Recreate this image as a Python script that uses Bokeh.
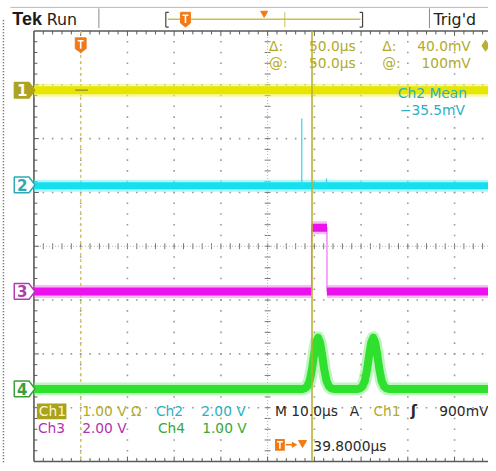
import numpy as np
from bokeh.plotting import figure
from bokeh.models import Range1d
from bokeh.core.properties import value
from bokeh.embed import file_html
from bokeh.resources import INLINE

# ---------------- data ----------------
US_PER_DIV = 10.0
ch_names = ["1", "2", "3", "4"]
ch_volts_per_div = [1.0, 2.0, 2.0, 1.0]
ch_offset_div = [2.90, 1.14, -0.84, -2.65]

ch1_t = [0.0, 100.0]
ch1_v = [0.0, 0.0]

ch2_t = [0.0, 100.0]
ch2_v = [-0.0355, -0.0355]
ch2_spike_t = [57.3, 62.6]
ch2_spike_v = [2.47, 0.25]

ch3_t = [0.0, 59.4, 59.4, 62.7, 62.7, 100.0]
ch3_v = [0.0, 0.0, 2.37, 2.37, 0.0, 0.0]

ch4_t = [0.0, 57.5, 58.0, 58.5, 59.0, 59.5, 60.0, 60.4, 60.8, 61.2, 61.6, 62.1, 62.6, 63.1, 63.6, 64.1,
         69.3, 69.8, 70.3, 70.8, 71.3, 71.8, 72.2, 72.6, 73.0, 73.4, 73.9, 74.4, 74.9, 75.4, 75.9, 100.0]
ch4_v = [0.0, 0.0, 0.01, 0.05, 0.15, 0.37, 0.67, 0.87, 0.95, 0.87, 0.67, 0.37, 0.15, 0.05, 0.01, 0.0,
         0.0, 0.01, 0.05, 0.15, 0.37, 0.67, 0.87, 0.95, 0.87, 0.67, 0.37, 0.15, 0.05, 0.01, 0.0, 0.0]

cursor_t = [10.0, 59.5]
trigger_t = 49.0

# ---------------- geometry helpers (reference-pixel space) ----------------
GX0 = 34.0        # left graticule edge
GY0 = 31.0        # top graticule edge
GY1 = 469.0       # bottom graticule edge
PXX = 47.5        # px per horizontal division
PXY = 54.75       # px per vertical division
YC = (GY0 + GY1) / 2


def X(xr):
    return (xr - GX0) / PXX * US_PER_DIV


def Y(yr):
    return (YC - yr) / PXY


def XR(t):
    return GX0 + t / US_PER_DIV * PXX


def lvl(i, v):
    return [ch_offset_div[i] + vv / ch_volts_per_div[i] for vv in v]


p = figure(width=488, height=463, output_backend="svg", toolbar_location=None,
           x_range=Range1d(X(0), X(496)), y_range=Range1d(Y(471), Y(0)),
           min_border=0, x_axis_location=None, y_axis_location=None,
           background_fill_color="white", border_fill_color="white")
p.grid.visible = False
p.outline_line_color = None

FONT = value("DejaVu Sans")


def T(xr, yr, s, color, size=13.8, align="left", style="normal", font="DejaVu Sans"):
    p.text(x=[X(xr)], y=[Y(yr)], text=[s], text_color=color, text_font=value(font),
           text_font_size=value(f"{size}px"), text_align=align, text_baseline="middle",
           text_font_style=style)


# ---------------- graticule ----------------
GRID = "#9a9a9a"
BORDER = "#5a5a5a"
vx, vy = [], []
for k in range(1, 10):
    if k == 5:
        continue
    for j in range(1, 40):
        vx.append(X(GX0 + k * PXX)); vy.append(Y(GY0 + j * PXY / 5))
for m in range(1, 8):
    if m == 4:
        continue
    for i in range(1, 50):
        vx.append(X(GX0 + i * PXX / 5)); vy.append(Y(GY0 + m * PXY))
p.scatter(vx, vy, marker="square", size=1.6, color=GRID, line_color=None)

cx = GX0 + 5 * PXX
x0s, y0s, x1s, y1s = [], [], [], []
for j in range(1, 40):
    yy = GY0 + j * PXY / 5
    x0s.append(X(cx - 3)); x1s.append(X(cx + 3)); y0s.append(Y(yy)); y1s.append(Y(yy))
for i in range(1, 50):
    xx = GX0 + i * PXX / 5
    x0s.append(X(xx)); x1s.append(X(xx)); y0s.append(Y(YC - 3)); y1s.append(Y(YC + 3))
p.segment(x0s, y0s, x1s, y1s, line_color="#777777", line_width=1)
p.segment([X(cx), X(GX0)], [Y(GY0), Y(YC)], [X(cx), X(520)], [Y(GY1), Y(YC)],
          line_color="#b0b0b0", line_width=1, line_dash="1 2")

x0s, y0s, x1s, y1s = [], [], [], []
for i in range(1, 50):
    xx = GX0 + i * PXX / 5
    L = 5 if i % 5 == 0 else 3.5
    x0s += [X(xx), X(xx)]; x1s += [X(xx), X(xx)]
    y0s += [Y(GY0), Y(GY1)]; y1s += [Y(GY0 + L), Y(GY1 - L)]
for j in range(1, 40):
    yy = GY0 + j * PXY / 5
    L = 5 if j % 5 == 0 else 3.5
    x0s.append(X(GX0)); x1s.append(X(GX0 + L)); y0s.append(Y(yy)); y1s.append(Y(yy))
p.segment(x0s, y0s, x1s, y1s, line_color=BORDER, line_width=1)
p.segment([X(GX0), X(GX0), X(GX0)], [Y(GY0), Y(GY0), Y(GY1)],
          [X(520), X(GX0), X(520)], [Y(GY0), Y(GY1), Y(GY1)],
          line_color=BORDER, line_width=1.6)

# outer dotted frame at left
p.segment([X(3)], [Y(20)], [X(3)], [Y(471)], line_color="#555555", line_width=1.5, line_dash="1 2")

# ---------------- top status bar ----------------
p.segment([X(10)], [Y(7)], [X(496)], [Y(7)], line_color="#b8b8b8", line_width=1)
p.segment([X(100), X(436)], [Y(8), Y(8)], [X(100), X(436)], [Y(28), Y(28)],
          line_color="#8a8a8a", line_width=1)
T(12, 19, "Tek", "#1a1a1a", size=18, style="bold", font="Liberation Sans")
T(47, 19, "Run", "#222222", size=15.8)
T(440, 19, "Trig'd", "#222222", size=15.8)
p.segment([X(170)], [Y(19)], [X(366)], [Y(19)], line_color="#c8c050", line_width=1.5)
p.segment([X(289)], [Y(12)], [X(289)], [Y(27)], line_color="#c8c050", line_width=1)
p.segment([X(168), X(168), X(168), X(368), X(368), X(368)],
          [Y(12), Y(12), Y(27), Y(12), Y(12), Y(27)],
          [X(168), X(171), X(171), X(368), X(365), X(365)],
          [Y(27), Y(12), Y(27), Y(27), Y(12), Y(27)], line_color="#444444", line_width=1.2)
ORANGE = "#f27a16"


def tmark(xc, ytop, h=15, w=11):
    xs = [xc - w / 2, xc + w / 2, xc + w / 2, xc, xc - w / 2]
    ys = [ytop, ytop, ytop + h - 4, ytop + h, ytop + h - 4]
    p.patch([X(v) for v in xs], [Y(v) for v in ys], fill_color=ORANGE, line_color=ORANGE,
            line_width=1, line_join="round")
    p.segment([X(xc - 3), X(xc)], [Y(ytop + 3), Y(ytop + 3)], [X(xc + 3), X(xc)],
              [Y(ytop + 3), Y(ytop + h - 4)], line_color="white", line_width=1.6)


tmark(188, 12, h=15, w=10)
p.scatter([X(268)], [Y(13)], marker="triangle", angle=np.pi, size=7, color=ORANGE)
p.scatter([XR(trigger_t)], [Y(34)], marker="triangle", angle=np.pi, size=8, color=ORANGE)

# ---------------- cursors ----------------
p.segment([cursor_t[0]], [Y(GY0)], [cursor_t[0]], [Y(GY1)], line_color="#cfc65a",
          line_width=1.3, line_dash="3 3")
tmark(XR(cursor_t[0]), 38, h=15, w=11)

# ---------------- traces ----------------
C1, C2, C3, C4 = "#e6e600", "#14e0ef", "#ec10ec", "#2fe02f"
H1, H2, H3, H4 = "#f0f060", "#70eef6", "#f27af2", "#8aee8a"

p.line(ch1_t, lvl(0, ch1_v), line_color=H1, line_width=13, line_alpha=0.55)
p.line(ch1_t, lvl(0, ch1_v), line_color=C1, line_width=8)

p.line(ch2_t, lvl(1, ch2_v), line_color=H2, line_width=12, line_alpha=0.55)
p.line(ch2_t, lvl(1, ch2_v), line_color=C2, line_width=7)
p.segment(ch2_spike_t, lvl(1, [ch2_v[0]] * len(ch2_spike_t)), ch2_spike_t, lvl(1, ch2_spike_v),
          line_color="#40d8ea", line_width=1.3)

p.line(ch3_t, lvl(2, ch3_v), line_color="#f070f0", line_width=1.2)
seg_x0 = [ch3_t[i] for i in range(0, len(ch3_t) - 1, 2)]
seg_x1 = [ch3_t[i + 1] for i in range(0, len(ch3_t) - 1, 2)]
seg_y = lvl(2, [ch3_v[i] for i in range(0, len(ch3_t) - 1, 2)])
p.segment(seg_x0, seg_y, seg_x1, seg_y, line_color=H3, line_width=13, line_alpha=0.5)
p.segment(seg_x0, seg_y, seg_x1, seg_y, line_color=C3, line_width=8)

p.line(ch4_t, lvl(3, ch4_v), line_color=H4, line_width=13, line_alpha=0.55, line_join="round")
p.line(ch4_t, lvl(3, ch4_v), line_color=C4, line_width=8, line_join="round")

p.segment([cursor_t[1]], [Y(GY0)], [cursor_t[1]], [Y(GY1)], line_color="#b9ae2a", line_width=1.5)
p.segment([X(76)], [lvl(0, [0.0])[0]], [X(89)], [lvl(0, [0.0])[0]], line_color="#8f8a24", line_width=1.2)

# ---------------- channel markers ----------------
mk_col = ["#aca41e", "#2aaab8", "#b03cb0", "#3a9e3a"]
for i, name in enumerate(ch_names):
    yc = ch_offset_div[i]
    h = 8 / PXY
    xl, xr, xt = X(14), X(29), X(35)
    xs = [xl, xr, xt, xr, xl]
    ys = [yc + h, yc + h, yc, yc - h, yc - h]
    if i == 0:
        p.patch(xs, ys, fill_color=mk_col[i], line_color=mk_col[i], line_width=1.2)
        tc = "white"
    else:
        p.patch(xs, ys, fill_color="white", line_color=mk_col[i], line_width=1.5)
        tc = mk_col[i]
    p.text(x=[X(22)], y=[yc], text=[name], text_color=tc, text_font=FONT,
           text_font_size=value("15px"), text_align="center", text_baseline="middle",
           text_font_style="bold")

# ---------------- readouts ----------------
OL = "#b2aa2c"
T(273, 46, "Δ:", OL)
T(361, 46, "50.0µs", OL, align="right")
T(388, 46, "Δ:", OL)
T(478, 46, "40.0mV", OL, align="right")
T(273, 64, "@:", OL)
T(361, 64, "50.0µs", OL, align="right")
T(388, 64, "@:", OL)
T(478, 64, "100mV", OL, align="right")
p.scatter([X(493)], [Y(46)], marker="diamond", size=11, color="#b8b030")

TEAL = "#2bb0c2"
T(439, 94, "Ch2 Mean", TEAL, align="center")
T(439, 111, "−35.5mV", TEAL, align="center")

p.quad(left=[X(37)], right=[X(67)], top=[Y(410)], bottom=[Y(426)], fill_color="#aaa21e",
       line_color=None)
T(39, 418, "Ch1", "#fbf7c8")
T(83, 418, "1.00 V Ω", OL)
T(158, 418, "Ch2", TEAL)
T(204, 418, "2.00 V", TEAL)
PU, GR = "#b233b2", "#3aa83a"
T(38, 435, "Ch3", PU)
T(83, 435, "2.00 V", PU)
T(160, 435, "Ch4", GR)
T(205, 435, "1.00 V", GR)

DK = "#2a2a2a"
T(279, 418, "M 10.0µs", DK)
T(355, 418, "A", DK)
T(379, 418, "Ch1", OL)
T(417, 418, "ʃ", DK, size=15, style="bold")
T(446, 418, "900mV", DK)

p.quad(left=[X(279)], right=[X(289)], top=[Y(446)], bottom=[Y(458)], fill_color=ORANGE,
       line_color=None)
p.segment([X(281), X(284)], [Y(449), Y(449)], [X(287), X(284)], [Y(449), Y(456)],
          line_color="white", line_width=1.5)
p.segment([X(290)], [Y(452)], [X(299)], [Y(452)], line_color=ORANGE, line_width=1.5)
p.scatter([X(298)], [Y(452)], marker="triangle", angle=-np.pi / 2, size=5, color=ORANGE)
p.scatter([X(307)], [Y(450)], marker="triangle", angle=np.pi, size=8, color=ORANGE)
T(318, 453, "39.8000µs", DK)

open("out.html", "w").write(file_html(p, INLINE))
